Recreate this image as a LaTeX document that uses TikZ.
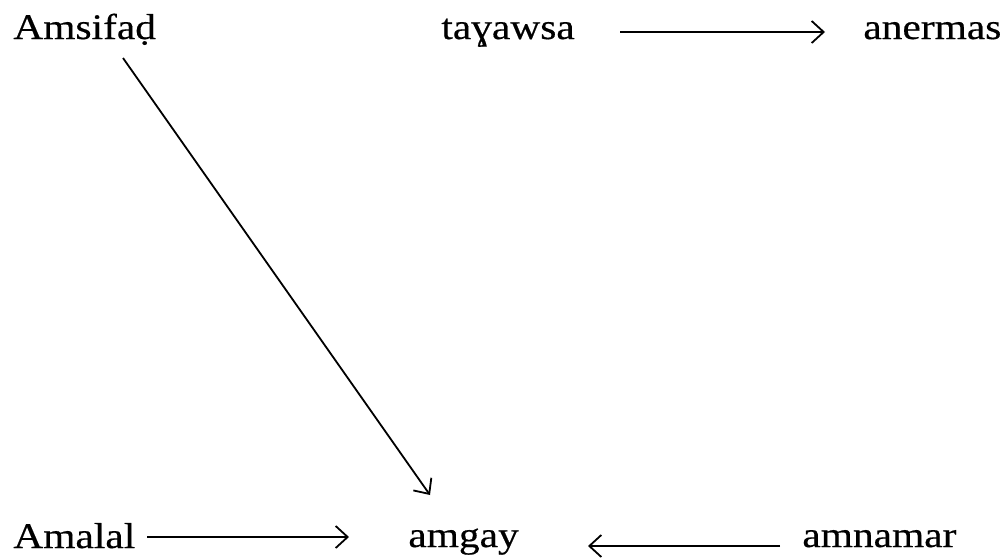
\documentclass[tikz,border=0pt]{standalone}
\usepackage{fontspec}
\setmainfont{Liberation Serif}[FakeStretch=1.15,FakeBold=0.4]
\usetikzlibrary{arrows.meta,calc}
\begin{document}
\begin{tikzpicture}[x=0.5pt,y=-0.5pt,
  word/.style={anchor=base west,inner sep=0pt,font=\fontsize{18}{20}\selectfont},
  arr/.style={line width=0.9pt,-{Straight Barb[length=6pt,width=11pt,line width=0.9pt]}}]
\useasboundingbox (0,0) rectangle (1008,558);
\node[word] (A) at (13,39) {Amsifaḍ};
\node[word] (t) at (441,39) {taɣawsa};
\node[word] (n) at (863,39) {anermas};
\node[word] (L) at (13,548) {Amalal};
\node[word] (g) at (408,547) {amgay};
\node[word] (m) at (802,547) {amnamar};
\draw[arr] ($(t.base west)+(179,-7)$) -- ($(n.base west)+(-38,-7)$);
\draw[arr] ($(A.base west)+(110,19)$) -- ($(g.base west)+(22,-52)$);
\draw[arr] ($(L.base west)+(134,-11)$) -- ($(g.base west)+(-59,-10)$);
\draw[arr] ($(m.base west)+(-22,-1)$) -- ($(g.base west)+(180,-1)$);
\end{tikzpicture}
\end{document}
